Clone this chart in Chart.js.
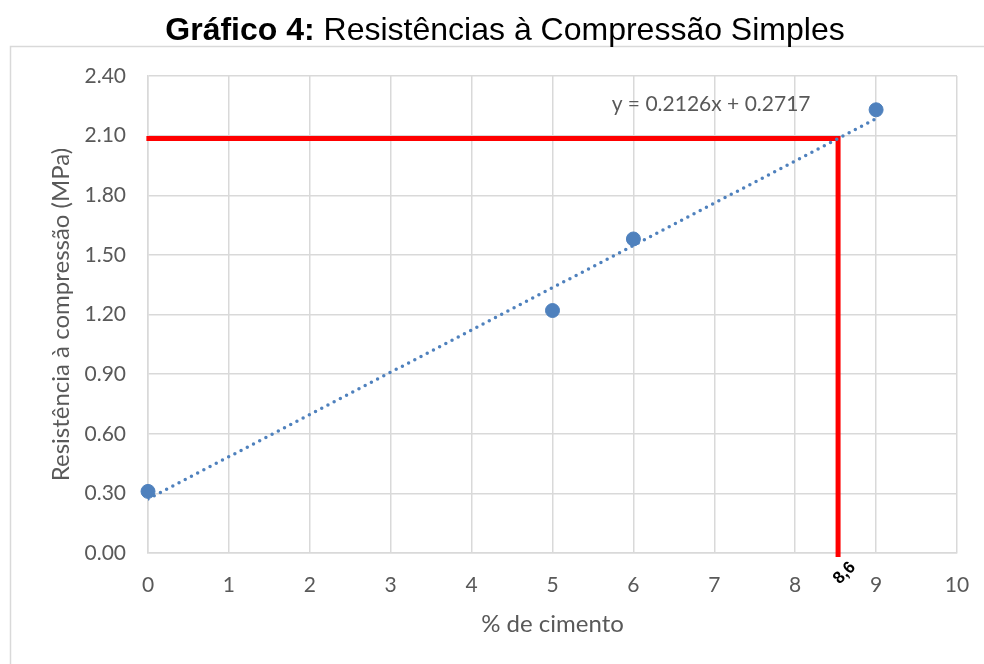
<!DOCTYPE html>
<html>
<head>
<meta charset="utf-8">
<script src="https://cdn.jsdelivr.net/npm/chart.js@4/dist/chart.umd.min.js"></script>
<style>
  html, body { margin: 0; padding: 0; background: #fff; }
  #wrap { width: 984px; height: 664px; position: relative; }
</style>
</head>
<body>
<div id="wrap"><canvas id="chart" width="984" height="664"></canvas></div>
<script>
// data
const cementPct = [0, 5, 6, 9];
const strength = [0.31, 1.22, 1.58, 2.23];

// trendline y = 0.2126x + 0.2717, drawn between its two end points
const trendX = [0, 9];
const trendY = [0.2717, 2.1851];

// red guide lines (reading at 8,6 %)
const guideX = [-0.02, 8.53, 8.53];
const guideY = [2.086, 2.086, -0.02];

const yTicks = [0, 0.3, 0.6, 0.9, 1.2, 1.5, 1.8, 2.1, 2.4];

const blue = '#4f81bd';
const tickFont = "Lato, 'Open Sans', sans-serif";

const toPoints = (xs, ys) => xs.map((x, i) => ({ x: x, y: ys[i] }));

// title, border and annotations
const decorations = {
  id: 'decorations',
  beforeDraw(chart) {
    const ctx = chart.ctx;
    ctx.save();
    ctx.strokeStyle = '#d9d9d9';
    ctx.lineWidth = 1.5;
    ctx.beginPath();
    ctx.moveTo(10.5, 664);
    ctx.lineTo(10.5, 46.5);
    ctx.lineTo(984, 46.5);
    ctx.stroke();

    // title with bold prefix
    const bold = 'Gráfico 4: ';
    const rest = 'Resistências à Compressão Simples';
    ctx.fillStyle = '#000';
    ctx.textBaseline = 'middle';
    ctx.font = "bold 32px 'Liberation Sans', Arial, sans-serif";
    const wb = ctx.measureText(bold).width;
    ctx.font = "32px 'Liberation Sans', Arial, sans-serif";
    const wr = ctx.measureText(rest).width;
    const x0 = 505 - (wb + wr) / 2;
    ctx.font = "bold 32px 'Liberation Sans', Arial, sans-serif";
    ctx.textAlign = 'left';
    ctx.fillText(bold, x0, 31);
    ctx.font = "32px 'Liberation Sans', Arial, sans-serif";
    ctx.fillText(rest, x0 + wb, 31);
    ctx.restore();
  },
  afterDraw(chart) {
    const ctx = chart.ctx;
    const xs = chart.scales.x, ys = chart.scales.y;
    ctx.save();
    // equation label
    ctx.font = "21px " + tickFont;
    ctx.fillStyle = '#595959';
    ctx.textAlign = 'center';
    ctx.textBaseline = 'middle';
    ctx.fillText('y = 0.2126x + 0.2717', xs.getPixelForValue(6.96), ys.getPixelForValue(2.26));

    // rotated 8,6 label
    ctx.translate(xs.getPixelForValue(8.61), ys.getPixelForValue(0) + 20);
    ctx.rotate(-Math.PI / 4);
    ctx.font = "bold 17px 'Liberation Sans', Arial, sans-serif";
    ctx.fillStyle = '#000';
    ctx.fillText('8,6', 0, 0);
    ctx.restore();
  }
};

new Chart(document.getElementById('chart'), {
  type: 'scatter',
  data: {
    datasets: [
      {
        label: 'guia',
        data: toPoints(guideX, guideY),
        showLine: true,
        borderColor: '#ff0000',
        borderWidth: 5,
        pointRadius: 0,
        clip: false,
        order: 3
      },
      {
        label: 'tendência',
        data: toPoints(trendX, trendY),
        showLine: true,
        borderColor: blue,
        borderWidth: 3.5,
        borderDash: [0, 7],
        borderCapStyle: 'round',
        pointRadius: 0,
        order: 2
      },
      {
        label: 'Resistência',
        data: toPoints(cementPct, strength),
        backgroundColor: blue,
        borderColor: blue,
        pointRadius: 7,
        clip: false,
        order: 1
      }
    ]
  },
  options: {
    responsive: false,
    animation: false,
    layout: { padding: { left: 0, top: 76, right: 27, bottom: 0 } },
    plugins: {
      legend: { display: false },
      tooltip: { enabled: false }
    },
    scales: {
      x: {
        type: 'linear',
        min: 0,
        max: 10,
        afterFit(scale) {
          scale.height = 111;
          scale.paddingLeft = 0;
          scale.paddingRight = 0;
        },
        ticks: {
          stepSize: 1,
          padding: 20,
          color: '#595959',
          font: { family: tickFont, size: 21 }
        },
        grid: { color: '#d9d9d9', drawTicks: false, lineWidth: 1.5 },
        border: { color: '#d9d9d9', width: 1.5 },
        title: {
          display: true,
          text: '% de cimento',
          color: '#595959',
          font: { family: tickFont, size: 24 },
          padding: { top: 0, bottom: 25 }
        }
      },
      y: {
        type: 'linear',
        min: 0,
        max: 2.4,
        afterFit(scale) {
          scale.width = 148;
          scale.paddingTop = 0;
          scale.paddingBottom = 0;
        },
        afterBuildTicks(scale) { scale.ticks = yTicks.map(v => ({ value: v })); },
        ticks: {
          padding: 22,
          color: '#595959',
          font: { family: tickFont, size: 21 },
          callback: v => v.toFixed(2)
        },
        grid: { color: '#d9d9d9', drawTicks: false, lineWidth: 1.5 },
        border: { color: '#d9d9d9', width: 1.5 },
        title: {
          display: true,
          text: 'Resistência à compressão (MPa)',
          color: '#595959',
          font: { family: tickFont, size: 24 },
          padding: { top: 47, bottom: 0 }
        }
      }
    }
  },
  plugins: [decorations]
});
</script>
</body>
</html>
